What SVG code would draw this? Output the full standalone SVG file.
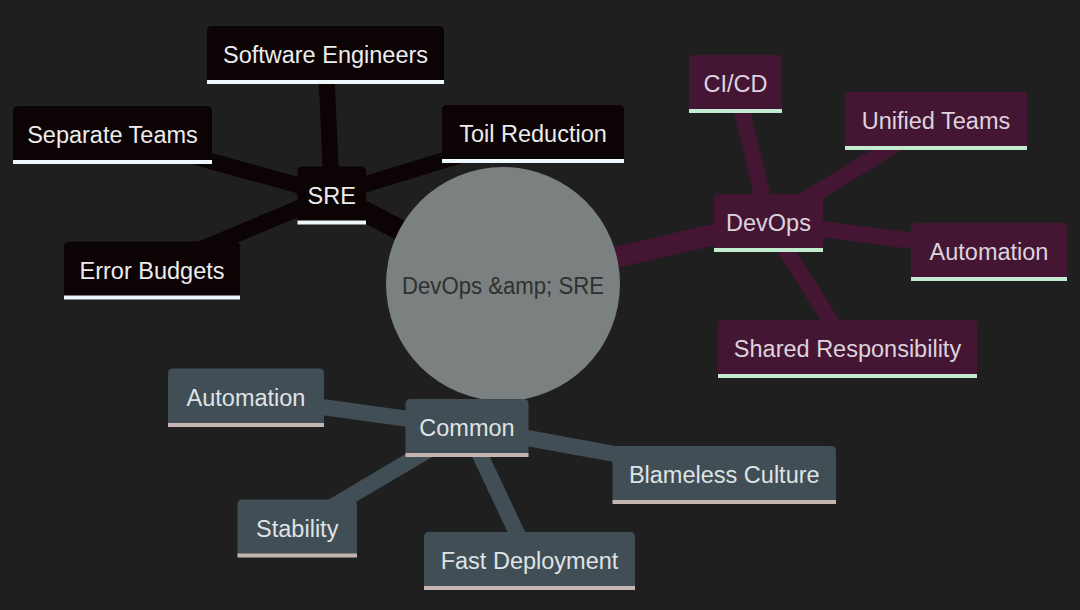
<svg xmlns="http://www.w3.org/2000/svg" width="1080" height="610" viewBox="0 0 1080 610">
<style>
.bg{fill:#1f1f1f}
.e{fill:none;stroke-linecap:butt}
.e-sre{stroke:#0c0304}
.e-dev{stroke:#451634}
.e-com{stroke:#414e55}
.w0{stroke-width:21}
.w1{stroke-width:16}
.t{font-family:"Liberation Sans",Arial,sans-serif;font-size:23.5px;text-anchor:middle}
.n-sre{fill:#0c0304}
.n-dev{fill:#451634}
.n-com{fill:#414e55}
.l-sre{stroke:#eef7f9;stroke-width:4}
.l-dev{stroke:#c1ecd0;stroke-width:4}
.l-com{stroke:#c4b5b0;stroke-width:4}
.t-sre{fill:#ececec}
.t-dev{fill:#ddd3dd}
.t-com{fill:#dfe3e5}
.root{fill:#7b8080}
.t-root{fill:#303030}
</style>
<rect class="bg" x="0" y="0" width="1080" height="610"/>
<g id="connectors">
<line class="e e-sre w0" x1="503" y1="283.5" x2="331.75" y2="194.5"/>
<line class="e e-dev w0" x1="503" y1="283.5" x2="768.5" y2="222"/>
<line class="e e-com w0" x1="503" y1="283.5" x2="488" y2="427"/>
<line class="e e-sre w1" x1="331.75" y1="194.5" x2="325.5" y2="54"/>
<line class="e e-sre w1" x1="331.75" y1="194.5" x2="112.5" y2="134"/>
<line class="e e-sre w1" x1="331.75" y1="194.5" x2="533" y2="133"/>
<line class="e e-sre w1" x1="331.75" y1="194.5" x2="152" y2="269.5"/>
<line class="e e-dev w1" x1="768.5" y1="222" x2="735.5" y2="83"/>
<line class="e e-dev w1" x1="768.5" y1="222" x2="936" y2="120"/>
<line class="e e-dev w1" x1="768.5" y1="222" x2="989" y2="251"/>
<line class="e e-dev w1" x1="768.5" y1="222" x2="847.5" y2="348"/>
<line class="e e-com w1" x1="467" y1="427" x2="246" y2="396.5"/>
<line class="e e-com w1" x1="467" y1="427" x2="724" y2="474"/>
<line class="e e-com w1" x1="467" y1="427" x2="297" y2="527.5"/>
<line class="e e-com w1" x1="467" y1="427" x2="529.5" y2="560"/>
</g>
<g id="root">
<circle class="root" cx="503" cy="284" r="117"/>
<text class="t t-root" x="503" y="294" textLength="202" lengthAdjust="spacingAndGlyphs">DevOps &amp;amp; SRE</text>
</g>
<g id="sre">
<path class="n-sre" d="M297.5,222.5 V171.5 Q297.5,166.5 302.5,166.5 H361 Q366,166.5 366,171.5 V222.5 Z"/>
<line class="l-sre" x1="297.5" y1="222.5" x2="366" y2="222.5"/>
<text class="t t-sre" x="331.75" y="203.5">SRE</text>
</g>
<g id="software-engineers">
<path class="n-sre" d="M207,82 V31 Q207,26 212,26 H439 Q444,26 444,31 V82 Z"/>
<line class="l-sre" x1="207" y1="82" x2="444" y2="82"/>
<text class="t t-sre" x="325.5" y="63">Software Engineers</text>
</g>
<g id="separate-teams">
<path class="n-sre" d="M13,162 V111 Q13,106 18,106 H207 Q212,106 212,111 V162 Z"/>
<line class="l-sre" x1="13" y1="162" x2="212" y2="162"/>
<text class="t t-sre" x="112.5" y="143">Separate Teams</text>
</g>
<g id="toil-reduction">
<path class="n-sre" d="M442,161 V110 Q442,105 447,105 H619 Q624,105 624,110 V161 Z"/>
<line class="l-sre" x1="442" y1="161" x2="624" y2="161"/>
<text class="t t-sre" x="533" y="142">Toil Reduction</text>
</g>
<g id="error-budgets">
<path class="n-sre" d="M64,297.5 V246.5 Q64,241.5 69,241.5 H235 Q240,241.5 240,246.5 V297.5 Z"/>
<line class="l-sre" x1="64" y1="297.5" x2="240" y2="297.5"/>
<text class="t t-sre" x="152" y="278.5">Error Budgets</text>
</g>
<g id="devops">
<path class="n-dev" d="M714,250 V199 Q714,194 719,194 H818 Q823,194 823,199 V250 Z"/>
<line class="l-dev" x1="714" y1="250" x2="823" y2="250"/>
<text class="t t-dev" x="768.5" y="231">DevOps</text>
</g>
<g id="ci-cd">
<path class="n-dev" d="M689,111 V60 Q689,55 694,55 H777 Q782,55 782,60 V111 Z"/>
<line class="l-dev" x1="689" y1="111" x2="782" y2="111"/>
<text class="t t-dev" x="735.5" y="92">CI/CD</text>
</g>
<g id="unified-teams">
<path class="n-dev" d="M845,148 V97 Q845,92 850,92 H1022 Q1027,92 1027,97 V148 Z"/>
<line class="l-dev" x1="845" y1="148" x2="1027" y2="148"/>
<text class="t t-dev" x="936" y="129">Unified Teams</text>
</g>
<g id="automation-devops">
<path class="n-dev" d="M911,279 V228 Q911,223 916,223 H1062 Q1067,223 1067,228 V279 Z"/>
<line class="l-dev" x1="911" y1="279" x2="1067" y2="279"/>
<text class="t t-dev" x="989" y="260">Automation</text>
</g>
<g id="shared-responsibility">
<path class="n-dev" d="M718,376 V325 Q718,320 723,320 H972 Q977,320 977,325 V376 Z"/>
<line class="l-dev" x1="718" y1="376" x2="977" y2="376"/>
<text class="t t-dev" x="847.5" y="357">Shared Responsibility</text>
</g>
<g id="common">
<path class="n-com" d="M405.5,455 V404 Q405.5,399 410.5,399 H523.5 Q528.5,399 528.5,404 V455 Z"/>
<line class="l-com" x1="405.5" y1="455" x2="528.5" y2="455"/>
<text class="t t-com" x="467" y="436">Common</text>
</g>
<g id="automation-common">
<path class="n-com" d="M168,425 V373.5 Q168,368.5 173,368.5 H319 Q324,368.5 324,373.5 V425 Z"/>
<line class="l-com" x1="168" y1="425" x2="324" y2="425"/>
<text class="t t-com" x="246" y="405.5">Automation</text>
</g>
<g id="blameless-culture">
<path class="n-com" d="M612.5,502 V451 Q612.5,446 617.5,446 H831 Q836,446 836,451 V502 Z"/>
<line class="l-com" x1="612.5" y1="502" x2="836" y2="502"/>
<text class="t t-com" x="724.25" y="483">Blameless Culture</text>
</g>
<g id="stability">
<path class="n-com" d="M237.5,555.5 V504.5 Q237.5,499.5 242.5,499.5 H352 Q357,499.5 357,504.5 V555.5 Z"/>
<line class="l-com" x1="237.5" y1="555.5" x2="357" y2="555.5"/>
<text class="t t-com" x="297.25" y="536.5">Stability</text>
</g>
<g id="fast-deployment">
<path class="n-com" d="M424,588 V537 Q424,532 429,532 H630 Q635,532 635,537 V588 Z"/>
<line class="l-com" x1="424" y1="588" x2="635" y2="588"/>
<text class="t t-com" x="529.5" y="569">Fast Deployment</text>
</g>
</svg>
